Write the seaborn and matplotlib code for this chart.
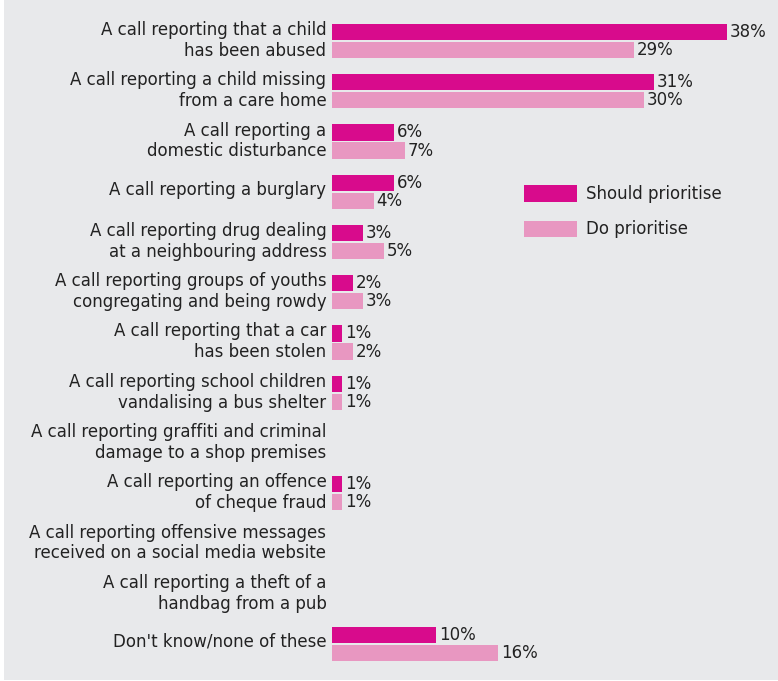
import numpy as np
import pandas as pd
import matplotlib
matplotlib.use("Agg")
import matplotlib.pyplot as plt
import matplotlib.transforms as mtransforms
from matplotlib.patches import Rectangle
import seaborn as sns

categories = [
    "A call reporting that a child\nhas been abused",
    "A call reporting a child missing\nfrom a care home",
    "A call reporting a\ndomestic disturbance",
    "A call reporting a burglary",
    "A call reporting drug dealing\nat a neighbouring address",
    "A call reporting groups of youths\ncongregating and being rowdy",
    "A call reporting that a car\nhas been stolen",
    "A call reporting school children\nvandalising a bus shelter",
    "A call reporting graffiti and criminal\ndamage to a shop premises",
    "A call reporting an offence\nof cheque fraud",
    "A call reporting offensive messages\nreceived on a social media website",
    "A call reporting a theft of a\nhandbag from a pub",
    "Don't know/none of these",
]
should_prioritise = [38, 31, 6, 6, 3, 2, 1, 1, 0, 1, 0, 0, 10]
do_prioritise = [29, 30, 7, 4, 5, 3, 2, 1, 0, 1, 0, 0, 16]
series_names = ["Should prioritise", "Do prioritise"]
colors = ["#d80b8c", "#e897c1"]

BG = "#e8e9eb"
TEXT = "#222222"
FS = 12

df = pd.DataFrame({
    "category": categories * 2,
    "value": should_prioritise + do_prioritise,
    "series": [series_names[0]] * len(categories) + [series_names[1]] * len(categories),
})

sns.set_theme(style="white")
plt.rcParams["font.family"] = ["DejaVu Sans"]

fig = plt.figure(figsize=(7.78, 6.81), dpi=100, facecolor="white")
fig.patches.append(Rectangle((4 / 778, 1 / 681), 1, 1, transform=fig.transFigure,
                             facecolor=BG, edgecolor="none", zorder=-10))

# 50.25 px per category row, first row centred 41 px from the top
ax_top = 41 - 0.65 * 50.25
ax_h = 13.3 * 50.25
ax = fig.add_axes([332 / 778, 1 - (ax_top + ax_h) / 681, (770 - 332) / 778, ax_h / 681])
ax.set_facecolor("none")

sns.barplot(data=df, y="category", x="value", hue="series", hue_order=series_names,
            palette=colors, orient="h", width=0.72, gap=0.11, saturation=1,
            linewidth=0, dodge=True, ax=ax, legend=False)

ax.set_xlim(0, 438 / 10.4)
ax.set_ylim(12.65, -0.65)

for container, vals in zip(ax.containers, [should_prioritise, do_prioritise]):
    labels = [f"{v}%" if v > 0 else "" for v in vals]
    ax.bar_label(container, labels=labels, padding=2, fontsize=FS, color=TEXT)

ax.set_xlabel("")
ax.set_ylabel("")
ax.set_xticks([])
ax.tick_params(axis="y", length=0, pad=4, labelsize=FS, labelcolor=TEXT)
lift = mtransforms.ScaledTranslation(0, 4 / 100, fig.dpi_scale_trans)
for lbl in ax.get_yticklabels():
    lbl.set_horizontalalignment("right")
    lbl.set_multialignment("right")
    lbl.set_linespacing(1.2)
    lbl.set_transform(lbl.get_transform() + lift)
sns.despine(ax=ax, left=True, bottom=True)

handles = [Rectangle((0, 0), 1, 1, facecolor=c, edgecolor="none") for c in colors]
fig.legend(handles, series_names, loc="upper left", bbox_to_anchor=(524 / 778, 1 - 185 / 681),
           frameon=False, borderpad=0, borderaxespad=0, fontsize=FS,
           handlelength=3.2, handleheight=1.15, handletextpad=0.5, labelspacing=1.05,
           labelcolor=TEXT)

fig.savefig("out.png", dpi=100, facecolor="white")
